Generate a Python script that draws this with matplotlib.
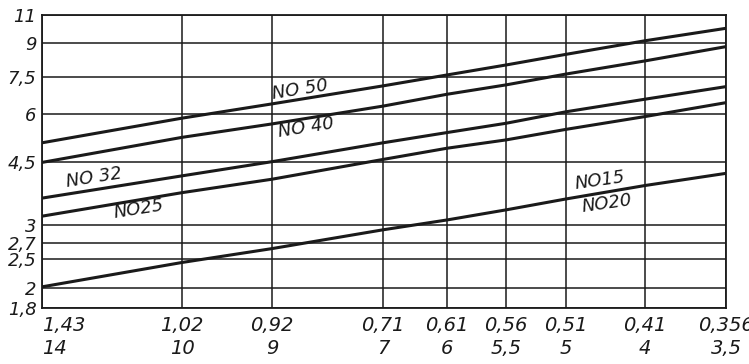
import numpy as np
import matplotlib
matplotlib.use("Agg")
import matplotlib.pyplot as plt

# bottom scale values and the matching upper scale values
x_vals = [14, 10, 9, 7, 6, 5.5, 5, 4, 3.5]
x_top = ["1,43", "1,02", "0,92", "0,71", "0,61", "0,56", "0,51", "0,41", "0,356"]
x_bot = ["14", "10", "9", "7", "6", "5,5", "5", "4", "3,5"]

y_vals = [11, 9, 7.5, 6, 4.5, 3, 2.7, 2.5, 2, 1.8]
y_labels = ["11", "9", "7,5", "6", "4,5", "3", "2,7", "2,5", "2", "1,8"]

# curves, read at each x value
no50 = [5.10, 5.87, 6.41, 7.14, 7.59, 8.03, 8.50, 9.16, 10.05]
no40 = [4.49, 5.27, 5.69, 6.32, 6.80, 7.18, 7.63, 8.21, 8.84]
no32 = [3.64, 4.17, 4.51, 5.10, 5.42, 5.71, 6.09, 6.60, 7.11]
no25 = [3.21, 3.77, 4.09, 4.58, 4.93, 5.19, 5.52, 5.92, 6.46]
no15_20 = [2.02, 2.44, 2.63, 2.92, 3.12, 3.36, 3.62, 3.94, 4.23]

# nomogram scales: where each graduation sits (hand drawn, not regular)
x_scale_pos = [0, 140, 230, 341, 405, 464, 524, 603, 684]
y_scale_pos = [293, 265, 231, 194, 146, 83, 65, 49, 20, 0]


def fwd_x(v):
    return -np.interp(v, x_vals[::-1], x_scale_pos[::-1])


def inv_x(p):
    return np.interp(-np.asarray(p), x_scale_pos, x_vals)


def fwd_y(v):
    return np.interp(v, y_vals[::-1], y_scale_pos[::-1])


def inv_y(p):
    return np.interp(p, y_scale_pos[::-1], y_vals[::-1])


fig = plt.figure(figsize=(7.49, 3.64), dpi=100)
ax = fig.add_axes([42 / 749, 1 - 308 / 364, 684 / 749, 293 / 364])

ax.set_xscale("function", functions=(fwd_x, inv_x))
ax.set_yscale("function", functions=(fwd_y, inv_y))
ax.set_xlim(14, 3.5)
ax.set_ylim(1.8, 11)

ink = "#1a1a1a"
for v in x_vals:
    ax.axvline(v, color=ink, lw=1.1, zorder=1)
for v in y_vals:
    ax.axhline(v, color=ink, lw=1.1, zorder=1)

for ys in [no50, no40, no32, no25, no15_20]:
    ax.plot(x_vals, ys, color=ink, lw=2.2, zorder=3)

font = dict(fontsize=13, style="italic", color=ink, ha="center", va="center")
ax.text(8.50, 6.97, "NO 50", rotation=9, **font)
ax.text(8.39, 5.56, "NO 40", rotation=9, **font)
ax.text(12.51, 4.12, "NO 32", rotation=9, **font)
ax.text(11.23, 3.38, "NO25", rotation=9, **font)
ax.text(4.57, 4.05, "NO15", rotation=8, **font)
ax.text(4.48, 3.50, "NO20", rotation=8, **font)

ax.set_yticks(y_vals)
ax.set_yticklabels(y_labels)
ax.yaxis.set_minor_locator(matplotlib.ticker.NullLocator())
ax.set_xticks(x_vals)
ax.set_xticklabels([t + "\n" + b for t, b in zip(x_top, x_bot)], linespacing=1.25)
ax.xaxis.set_minor_locator(matplotlib.ticker.NullLocator())
ax.tick_params(length=0, labelsize=14, colors=ink)
ax.tick_params(axis="y", pad=4, labelsize=13)
ax.tick_params(axis="x", pad=6)
for lab in ax.get_xticklabels() + ax.get_yticklabels():
    lab.set_style("italic")
ax.get_xticklabels()[0].set_ha("left")

for s in ax.spines.values():
    s.set_color(ink)
    s.set_linewidth(1.3)

fig.savefig("out.png", dpi=100)
